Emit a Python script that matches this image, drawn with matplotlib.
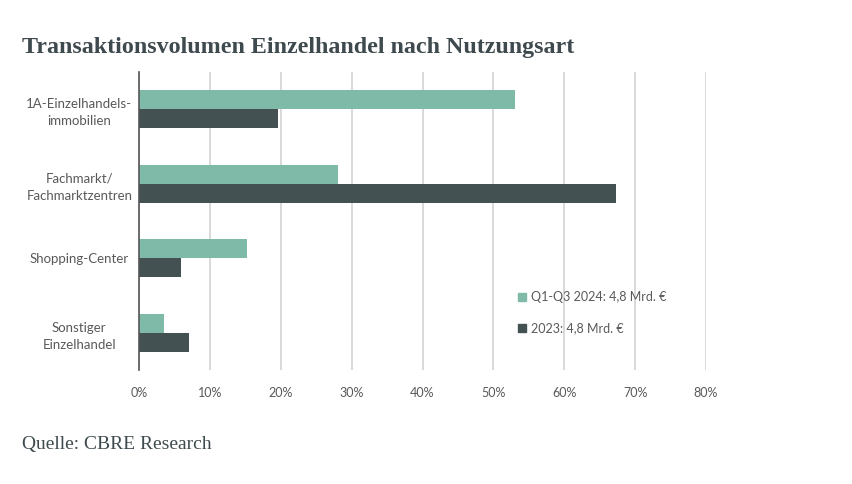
import numpy as np
from matplotlib import pyplot as plt
from matplotlib.patches import Patch

categories = ["1A-Einzelhandels-\nimmobilien", "Fachmarkt/\nFachmarktzentren",
              "Shopping-Center", "Sonstiger\nEinzelhandel"]
share_2024 = [53.0, 28.1, 15.2, 3.5]
share_2023 = [19.6, 67.3, 5.9, 7.1]
series_labels = ["Q1-Q3 2024: 4,8 Mrd. €", "2023: 4,8 Mrd. €"]
x_ticks = [0, 10, 20, 30, 40, 50, 60, 70, 80]

teal = "#7fbaa9"
dark = "#435153"
text_grey = "#595959"

plt.rcParams['font.family'] = ['Lato', 'DejaVu Sans']

fig = plt.figure(figsize=(8.52, 4.84), dpi=100)
ax = fig.add_axes([139 / 852, 1 - 370 / 484, (706 - 139) / 852, (370 - 72) / 484])

y = np.arange(len(categories))
h = 0.255
ax.barh(y - h / 2, share_2024, height=h, color=teal, zorder=3)
ax.barh(y + h / 2, share_2023, height=h, color=dark, zorder=3)

ax.set_ylim(len(categories) - 0.5, -0.5)
ax.set_xlim(0, 80)
ax.set_xticks(x_ticks)
ax.set_xticklabels([f"{t}%" for t in x_ticks], color=text_grey, fontsize=9)
ax.set_yticks(y)
ax.set_yticklabels(categories, color=text_grey, fontsize=9.5, ha='center', linespacing=1.5)
ax.tick_params(axis='y', length=0, pad=43)
ax.tick_params(axis='x', length=0, pad=12)
ax.xaxis.grid(True, color="#d3d3d3", linewidth=1.2, zorder=0)

for side in ['top', 'right', 'bottom']:
    ax.spines[side].set_visible(False)
ax.spines['left'].set_color("#555555")
ax.spines['left'].set_linewidth(1.2)
ax.spines['left'].set_zorder(4)

handles = [Patch(color=teal), Patch(color=dark)]
fig.legend(handles, series_labels, loc='upper left', bbox_to_anchor=(507 / 852, 1 - 280 / 484),
           frameon=False, fontsize=9, labelcolor=text_grey, handlelength=0.6, handleheight=0.6,
           handletextpad=0.4, labelspacing=1.5)

fig.text(22 / 852, 1 - 47 / 484, "Transaktionsvolumen Einzelhandel nach Nutzungsart",
         family='Liberation Serif', fontweight='bold', fontsize=17.3, color="#3f4a4f", va='center')
fig.text(22 / 852, 1 - 445 / 484, "Quelle: CBRE Research",
         family='Liberation Serif', fontsize=14, color="#3f4a4f", va='center')

fig.savefig("out.png", dpi=100)
